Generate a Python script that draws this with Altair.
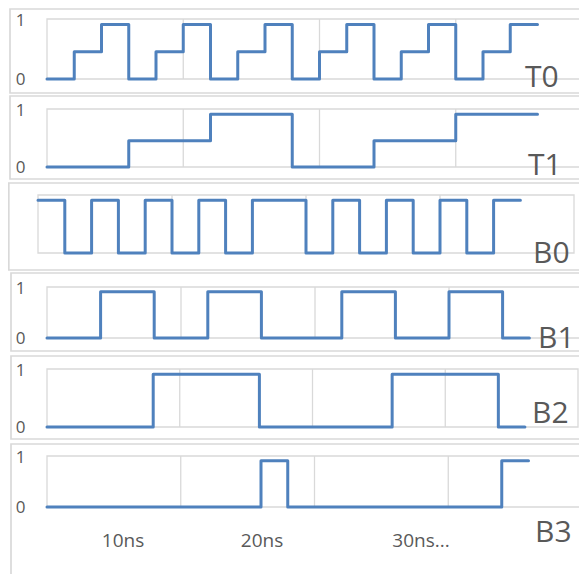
import altair as alt
import pandas as pd

# ---------------- data ----------------
T0_t = [0, 1, 2, 3, 4, 5, 6, 7, 8, 9, 10, 11, 12, 13, 14, 15, 16, 17, 18]
T0_v = [0, 0.5, 1, 0, 0.5, 1, 0, 0.5, 1, 0, 0.5, 1, 0, 0.5, 1, 0, 0.5, 1, 1]
T1_t = [0, 3, 6, 9, 12, 15, 18]
T1_v = [0, 0.5, 1, 0, 0.5, 1, 1]
B0_t = [0, 1, 2, 3, 4, 5, 6, 7, 8, 10, 11, 12, 13, 14, 15, 16, 17, 18]
B0_v = [1, 0, 1, 0, 1, 0, 1, 0, 1, 0, 1, 0, 1, 0, 1, 0, 1, 1]
B1_t = [0, 2, 4, 6, 8, 11, 13, 15, 17, 18]
B1_v = [0, 1, 0, 1, 0, 1, 0, 1, 0, 0]
B2_t = [0, 4, 8, 13, 17, 18]
B2_v = [0, 1, 0, 1, 0, 0]
B3_t = [0, 8, 9, 17, 18]
B3_v = [0, 1, 0, 1, 1]
grid_t = [5, 10, 15]
x_labels = ["10ns", "20ns", "30ns..."]

SIGNALS = {"T0": (T0_t, T0_v), "T1": (T1_t, T1_v), "B0": (B0_t, B0_v),
           "B1": (B1_t, B1_v), "B2": (B2_t, B2_v), "B3": (B3_t, B3_v)}

# ---------------- layout (chart pixel coordinates) ----------------
LAYOUT = {
    "T0": dict(xr=[39, 584], yr=[71, 11], box=[2, 600, 1, 85], lab=[517, 79], ylab=True),
    "T1": dict(xr=[39, 584], yr=[159, 101], box=[2, 600, 88, 171], lab=[520, 167], ylab=True),
    "B0": dict(xr=[30, 566], yr=[245, 187], box=[0.8, 600, 175, 262], lab=[525, 255], ylab=False),
    "B1": dict(xr=[39, 575], yr=[330, 279], box=[3, 600, 265, 343], lab=[530, 340], ylab=True),
    "B2": dict(xr=[39, 570], yr=[419, 361], box=[3, 600, 348, 431], lab=[524, 415], ylab=True),
    "B3": dict(xr=[39, 574], yr=[499, 448], box=[3, 600, 436, 600], lab=[527, 534], ylab=True),
}
XLAB_X = [115, 254, 413]
XLAB_Y = 539

LINE = "#4F81BD"
GRID = "#d9d9d9"
TEXT = "#595959"
FONT = "Open Sans"

one = pd.DataFrame({"a": [0]})
layers = []

for name, (t, v) in SIGNALS.items():
    L = LAYOUT[name]
    xs = alt.Scale(domain=[0, 20], range=L["xr"], nice=False, zero=False)
    ys = alt.Scale(domain=[0, 1.1], range=L["yr"], nice=False, zero=False)

    bx = L["box"]
    layers.append(alt.Chart(one).mark_rect(fillOpacity=0, stroke=GRID, strokeWidth=1.7).encode(
        x=alt.value(bx[0]), x2=alt.value(bx[1]), y=alt.value(bx[2]), y2=alt.value(bx[3])))

    frame = pd.DataFrame({"x": [0], "x2": [20], "y": [0], "y2": [1.1]})
    layers.append(alt.Chart(frame).mark_rect(fillOpacity=0, stroke=GRID, strokeWidth=1.3).encode(
        x=alt.X("x:Q", scale=xs, axis=None), x2="x2:Q",
        y=alt.Y("y:Q", scale=ys, axis=None), y2="y2:Q"))

    gdf = pd.DataFrame({"g": grid_t, "lo": [0] * len(grid_t), "hi": [1.1] * len(grid_t)})
    layers.append(alt.Chart(gdf).mark_rule(color=GRID, strokeWidth=1.3).encode(
        x=alt.X("g:Q", scale=xs, axis=None),
        y=alt.Y("lo:Q", scale=ys, axis=None), y2="hi:Q"))

    sdf = pd.DataFrame({"t": t, "v": v})
    layers.append(alt.Chart(sdf).mark_line(interpolate="step-after", color=LINE, strokeWidth=3,
                                           strokeJoin="round", strokeCap="round").encode(
        x=alt.X("t:Q", scale=xs, axis=None),
        y=alt.Y("v:Q", scale=ys, axis=None)))

    if L["ylab"]:
        for val, dy in [(1, -3), (0, 1)]:
            ldf = pd.DataFrame({"v": [val], "s": [str(val)]})
            layers.append(alt.Chart(ldf).mark_text(font=FONT, fontSize=17, color=TEXT,
                                                   align="center", baseline="middle", dy=dy).encode(
                x=alt.value(12.5), y=alt.Y("v:Q", scale=ys, axis=None), text="s:N"))

    ndf = pd.DataFrame({"s": [name]})
    layers.append(alt.Chart(ndf).mark_text(font=FONT, fontSize=30, color=TEXT,
                                           align="left", baseline="alphabetic").encode(
        x=alt.value(L["lab"][0]), y=alt.value(L["lab"][1]), text="s:N"))

for lbl, px in zip(x_labels, XLAB_X):
    xdf = pd.DataFrame({"s": [lbl]})
    layers.append(alt.Chart(xdf).mark_text(font=FONT, fontSize=19, color=TEXT,
                                           align="center", baseline="alphabetic").encode(
        x=alt.value(px), y=alt.value(XLAB_Y), text="s:N"))

chart = alt.layer(*layers).resolve_scale(x="independent", y="independent").properties(
    width=571, height=566, autosize="none", padding=0
).configure_view(stroke=None)

chart.save("out.html", embed_options={"renderer": "svg", "actions": False})
